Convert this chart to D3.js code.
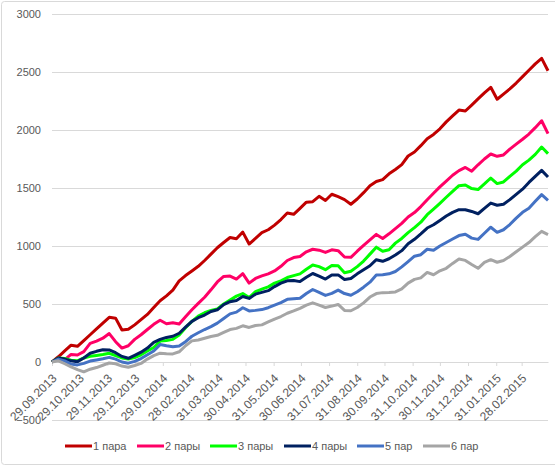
<!DOCTYPE html>
<html lang="ru">
<head>
<meta charset="UTF-8">
<title>Пары</title>
<script src="https://d3js.org/d3.v7.min.js"></script>
<style>
    body { margin: 0; background: #fff; }
    text { font-family: "Liberation Sans", Arial, sans-serif; fill: #595959; }
</style>
</head>
<body>
<svg id="chart" width="555" height="466"></svg>
<script>
// weekly points starting 29.09.2013
const startDate = "29.09.2013";
const weekCount = 79;

const tickLabels = ["29.09.2013", "29.10.2013", "29.11.2013", "29.12.2013", "29.01.2014", "28.02.2014",
    "31.03.2014", "30.04.2014", "31.05.2014", "30.06.2014", "31.07.2014", "31.08.2014", "30.09.2014",
    "31.10.2014", "30.11.2014", "31.12.2014", "31.01.2015", "28.02.2015"];
const yTicks = [-500, 0, 500, 1000, 1500, 2000, 2500, 3000];

const seriesNames = ["1 пара", "2 пары", "3 пары", "4 пары", "5 пар", "6 пар"];
const seriesColors = ["#c00000", "#ff0066", "#00ff00", "#002060", "#4472c4", "#a5a5a5"];

const para1 = [0, 45, 95, 145, 135, 185, 235, 285, 335, 385, 378, 276, 282, 320, 365, 410, 470, 528, 570, 620,
    700, 745, 785, 825, 875, 930, 985, 1030, 1073, 1062, 1120, 1017, 1065, 1115, 1140, 1180, 1228, 1285, 1273, 1325,
    1378, 1382, 1428, 1392, 1446, 1425, 1400, 1360, 1405, 1460, 1520, 1556, 1572, 1622, 1660, 1702, 1776, 1810, 1865, 1925,
    1962, 2010, 2070, 2122, 2172, 2164, 2215, 2268, 2320, 2368, 2265, 2310, 2355, 2405, 2460, 2515, 2570, 2618, 2511];
const pary2 = [0, 30, 20, 65, 60, 90, 160, 180, 205, 245, 175, 120, 140, 195, 235, 280, 325, 360, 330, 338,
    328, 390, 450, 505, 558, 622, 690, 738, 741, 715, 762, 680, 720, 742, 760, 785, 825, 875, 900, 910,
    950, 972, 964, 945, 967, 960, 905, 902, 955, 1005, 1052, 1100, 1065, 1105, 1150, 1195, 1250, 1288, 1340, 1399,
    1455, 1510, 1560, 1610, 1650, 1677, 1645, 1700, 1750, 1793, 1773, 1785, 1835, 1878, 1920, 1965, 2020, 2080, 1968];
const pary3 = [0, 35, 30, 15, 10, 35, 50, 57, 65, 75, 55, 35, 25, 38, 62, 95, 125, 180, 186, 195,
    232, 295, 350, 395, 425, 445, 458, 500, 535, 568, 590, 555, 606, 628, 648, 680, 700, 728, 745, 760,
    800, 836, 822, 796, 831, 829, 770, 782, 822, 870, 930, 990, 955, 968, 1025, 1065, 1115, 1158, 1205, 1270,
    1318, 1368, 1420, 1470, 1520, 1526, 1495, 1487, 1535, 1586, 1538, 1552, 1600, 1645, 1700, 1740, 1790, 1853, 1796];
const pary4 = [0, 35, 25, 10, 3, 35, 75, 92, 105, 104, 80, 48, 32, 58, 85, 120, 170, 195, 212, 222,
    248, 300, 350, 382, 405, 435, 450, 495, 520, 530, 565, 548, 585, 600, 615, 650, 680, 700, 702, 693,
    730, 763, 740, 715, 750, 751, 712, 720, 760, 795, 830, 882, 868, 890, 922, 960, 1020, 1058, 1105, 1155,
    1183, 1220, 1258, 1290, 1313, 1313, 1298, 1278, 1325, 1370, 1351, 1360, 1400, 1445, 1490, 1548, 1600, 1652, 1595];
const par5 = [0, 25, 10, -18, -25, -12, 8, 18, 28, 40, 25, 0, -10, 5, 30, 62, 95, 150, 140, 132,
    138, 175, 222, 252, 280, 305, 335, 375, 415, 430, 468, 440, 445, 452, 468, 490, 512, 540, 545, 549,
    590, 625, 600, 574, 592, 620, 590, 575, 606, 645, 688, 750, 752, 760, 780, 820, 865, 912, 925, 972,
    964, 1000, 1030, 1060, 1090, 1102, 1068, 1057, 1110, 1162, 1118, 1140, 1185, 1240, 1290, 1325, 1385, 1443, 1394];
const par6 = [0, 10, -15, -42, -65, -85, -62, -48, -28, -8, -15, -35, -45, -30, -12, 25, 55, 76, 72, 70,
    88, 140, 182, 190, 205, 220, 230, 255, 280, 290, 312, 298, 315, 320, 345, 370, 392, 420, 440, 462,
    490, 510, 490, 470, 482, 496, 445, 442, 470, 510, 560, 590, 598, 600, 604, 630, 680, 712, 725, 772,
    752, 786, 808, 850, 888, 876, 840, 808, 858, 882, 860, 875, 910, 950, 990, 1030, 1080, 1126, 1098];

const allSeries = [para1, pary2, pary3, pary4, par5, par6];

const parseDate = d3.timeParse("%d.%m.%Y");
const formatDate = d3.timeFormat("%d.%m.%Y");
const dates = d3.range(weekCount).map(i => d3.timeDay.offset(parseDate(startDate), 7 * i));

const svg = d3.select("#chart");
const width = +svg.attr("width");
const height = +svg.attr("height");
const margin = { top: 14, right: 7, bottom: 46, left: 52 };

// chart border
svg.append("rect")
    .attr("x", 1.5).attr("y", 1.5)
    .attr("width", width + 10).attr("height", height - 3)
    .attr("rx", 3)
    .attr("fill", "none")
    .attr("stroke", "#d9d9d9");

const x = d3.scaleTime()
    .domain([dates[0], dates[dates.length - 1]])
    .range([margin.left, width - margin.right]);

const y = d3.scaleLinear()
    .domain([-500, 3000])
    .range([height - margin.bottom, margin.top]);

// gridlines + y labels
const yAxis = svg.append("g")
    .attr("transform", `translate(${margin.left},0)`)
    .call(d3.axisLeft(y).tickValues(yTicks).tickFormat(d3.format("d"))
        .tickSize(-(width - margin.left - margin.right)).tickPadding(11));
yAxis.select(".domain").remove();
yAxis.selectAll(".tick line").attr("stroke", "#d9d9d9");
yAxis.selectAll(".tick text").attr("font-size", 11).attr("fill", "#595959");

// x axis on zero line
const xAxis = svg.append("g")
    .attr("transform", `translate(0,${y(0)})`)
    .call(d3.axisBottom(x).tickValues(tickLabels.map(parseDate)).tickFormat(formatDate).tickSize(4).tickSizeOuter(0));
xAxis.select(".domain").attr("stroke", "#d9d9d9");
xAxis.selectAll(".tick line").attr("stroke", "#d9d9d9");
xAxis.selectAll(".tick text")
    .attr("font-size", 12)
    .attr("fill", "#595959")
    .attr("text-anchor", "end")
    .attr("x", 0).attr("y", 0).attr("dy", "0.35em")
    .attr("transform", "translate(2,14) rotate(-45)");

// lines
const line = d3.line()
    .x((d, i) => x(dates[i]))
    .y(d => y(d));

svg.append("g")
    .selectAll("path")
    .data(allSeries)
    .enter().append("path")
    .attr("d", d => line(d))
    .attr("fill", "none")
    .attr("stroke", (d, i) => seriesColors[i])
    .attr("stroke-width", 3)
    .attr("stroke-linejoin", "round");

// legend
const legendX = [65, 137, 210, 284, 357, 423];
const legend = svg.append("g").attr("transform", "translate(0,446)");
seriesNames.forEach((name, i) => {
    legend.append("line")
        .attr("x1", legendX[i]).attr("x2", legendX[i] + 27)
        .attr("y1", 0).attr("y2", 0)
        .attr("stroke", seriesColors[i])
        .attr("stroke-width", 3);
    legend.append("text")
        .attr("x", legendX[i] + 28)
        .attr("y", 0)
        .attr("dy", "0.35em")
        .attr("font-size", 11)
        .text(name);
});
</script>
</body>
</html>
